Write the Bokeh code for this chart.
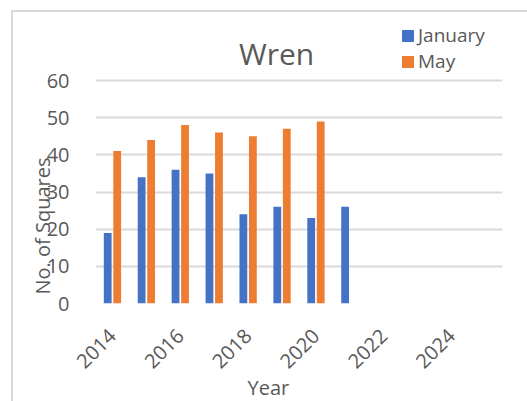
import math
from bokeh.plotting import figure
from bokeh.models import Range1d, FixedTicker, Label, Title, ColumnDataSource
from bokeh.transform import dodge
from bokeh.embed import file_html
from bokeh.resources import INLINE

# ---- data ----
title_text = "Wren"
series_names = ["January", "May"]
years_jan = [2014, 2015, 2016, 2017, 2018, 2019, 2020, 2021]
jan_values = [19, 34, 36, 35, 24, 26, 23, 26]
years_may = [2014, 2015, 2016, 2017, 2018, 2019, 2020]
may_values = [41, 44, 48, 46, 45, 47, 49]
x_ticks = [2014, 2016, 2018, 2020, 2022, 2024]
y_ticks = [0, 10, 20, 30, 40, 50, 60]
x_title = "Year"
y_title = "No. of Squares"

BLUE = "#4472C4"
ORANGE = "#ED7D31"
GRID = "#D9D9D9"
TXT = "#595959"
FONT = "Open Sans"

# frame spans from just below the chart border down to the zero line,
# so that the title and legend sit inside it
p = figure(width=527, height=401, output_backend="svg", toolbar_location=None,
           x_range=Range1d(2013.5, 2025.5), y_range=Range1d(0, 78.3),
           min_border_left=95, min_border_right=25, min_border_top=12,
           min_border_bottom=98)
p.border_fill_color = None
p.background_fill_color = None
p.outline_line_color = None
p.styles = {
    "background": "linear-gradient(#D9D9D9,#D9D9D9) 11px 10px / 2px 100% no-repeat, "
                  "linear-gradient(#D9D9D9,#D9D9D9) 11px 10px / 100% 2px no-repeat, white"
}

src_j = ColumnDataSource(dict(year=years_jan, val=jan_values))
src_m = ColumnDataSource(dict(year=years_may, val=may_values))
p.vbar(x=dodge("year", -0.14, range=p.x_range), top="val", width=0.23, source=src_j,
       fill_color=BLUE, line_color=None, legend_label=series_names[0])
p.vbar(x=dodge("year", 0.14, range=p.x_range), top="val", width=0.23, source=src_m,
       fill_color=ORANGE, line_color=None, legend_label=series_names[1])

# axes
p.xaxis.ticker = FixedTicker(ticks=x_ticks)
p.yaxis.ticker = FixedTicker(ticks=y_ticks)
for ax in (p.xaxis, p.yaxis):
    ax.axis_line_color = None
    ax.major_tick_line_color = None
    ax.minor_tick_line_color = None
    ax.major_label_text_font = FONT
    ax.major_label_text_font_size = "20px"
    ax.major_label_text_color = TXT
p.xaxis.major_label_orientation = math.pi / 4
p.xaxis.major_label_standoff = 23
p.yaxis.major_label_standoff = 20

p.xgrid.grid_line_color = None
p.ygrid.grid_line_color = GRID
p.ygrid.grid_line_width = 2

# chart title inside the (tall) frame
p.add_layout(Label(x=2018.84, y=67.3, text=title_text, text_align="center",
                   text_baseline="alphabetic", text_font=FONT,
                   text_font_size="30px", text_color=TXT))

# axis titles as side-panel titles (allow offset along the edge)
xt = Title(text=x_title, align="left", offset=152, standoff=-12,
           text_font=FONT, text_font_size="20px", text_font_style="normal",
           text_color=TXT)
p.add_layout(xt, "below")
yt = Title(text=y_title, align="left", offset=9, standoff=-25,
           text_font=FONT, text_font_size="20px", text_font_style="normal",
           text_color=TXT)
p.add_layout(yt, "left")

# legend
lg = p.legend[0]
lg.location = (305, 229)
lg.orientation = "vertical"
lg.background_fill_alpha = 0
lg.border_line_color = None
lg.padding = 0
lg.margin = 0
lg.spacing = 0
lg.glyph_width = 15
lg.glyph_height = 15
lg.label_height = 20
lg.label_standoff = 3
lg.label_text_font = FONT
lg.label_text_font_size = "19px"
lg.label_text_color = TXT

open("out.html", "w").write(file_html(p, INLINE))
